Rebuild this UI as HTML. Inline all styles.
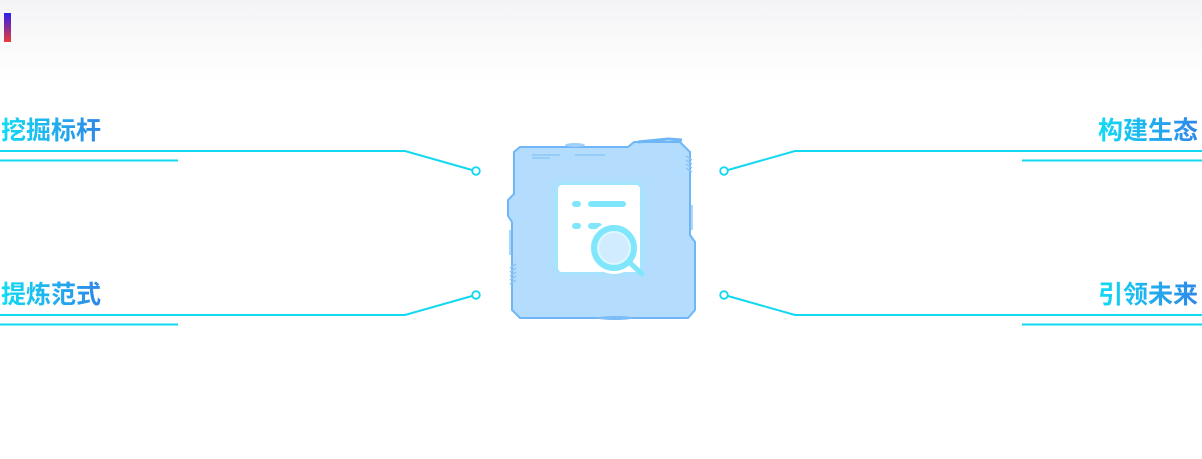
<!DOCTYPE html>
<html><head><meta charset="utf-8"><style>
html,body{margin:0;padding:0;width:1202px;height:459px;overflow:hidden;background:#fff}
svg{display:block}
text{font-family:"Liberation Sans","Noto Sans CJK SC",sans-serif;font-weight:bold;font-size:25px}
</style></head><body>
<svg width="1202" height="459" viewBox="0 0 1202 459">
<defs>
<linearGradient id="hdr" x1="0" y1="0" x2="0" y2="1"><stop offset="0" stop-color="#f4f4f6"/><stop offset="1" stop-color="#ffffff"/></linearGradient>
<linearGradient id="bar" x1="0" y1="0" x2="0" y2="1"><stop offset="0" stop-color="#2a1ff0"/><stop offset="1" stop-color="#e83a3a"/></linearGradient>
<linearGradient id="tg" x1="0" y1="0" x2="1" y2="0"><stop offset="0" stop-color="#10dcf4"/><stop offset="1" stop-color="#2f86e8"/></linearGradient>
<filter id="glow" x="-50%" y="-50%" width="200%" height="200%"><feGaussianBlur stdDeviation="4"/></filter>
</defs>
<rect x="0" y="0" width="1202" height="85" fill="url(#hdr)"/>
<rect x="4" y="13" width="7" height="29" fill="url(#bar)"/>

<g fill="url(#tg)">
<text x="1" y="139">挖掘标杆</text>
<text x="1" y="303">提炼范式</text>
<text x="1198" y="139" text-anchor="end">构建生态</text>
<text x="1198" y="303" text-anchor="end">引领未来</text>
</g>

<g stroke="#12d8f2" stroke-width="2" fill="none">
<polyline points="0,151 405,151 472,170"/>
<line x1="0" y1="160.5" x2="178" y2="160.5"/>
<polyline points="0,315 405,315 472,296"/>
<line x1="0" y1="324.5" x2="178" y2="324.5"/>
<polyline points="1202,151 795,151 728,170"/>
<line x1="1022" y1="160.5" x2="1202" y2="160.5"/>
<polyline points="1202,315 795,315 728,296"/>
<line x1="1022" y1="324.5" x2="1202" y2="324.5"/>
</g>
<g stroke="#12d8f2" stroke-width="1.8" fill="#fff">
<circle cx="476" cy="171" r="3.8"/>
<circle cx="476" cy="295" r="3.8"/>
<circle cx="724" cy="171" r="3.8"/>
<circle cx="724" cy="295" r="3.8"/>
</g>

<path d="M520,147 L628,147 L634,142 L680,142 L690,152 L690,235 L695,242 L695,310 L688,318 L520,318 L512,310 L512,222 L508,216 L508,200 L514,194 L514,152 Z" fill="#b4dcfc"/>
<path d="M520,147 L628,147 L634,142 L680,142 L690,152 L690,235 L695,242 L695,310 L688,318 L520,318 L512,310 L512,222 L508,216 L508,200 L514,194 L514,152 Z" fill="none" stroke="#6fb6f6" stroke-width="2"/>
<path d="M638,142 L668,139 L682,140" stroke="#6fb6f6" stroke-width="3" fill="none"/>
<g stroke="#8cc6f8" stroke-width="1.4">
<line x1="532" y1="155" x2="560" y2="155"/><line x1="532" y1="158" x2="550" y2="158"/>
<line x1="575" y1="155" x2="605" y2="155"/>
<line x1="686" y1="156" x2="692" y2="160"/><line x1="686" y1="160" x2="692" y2="164"/><line x1="686" y1="164" x2="692" y2="168"/><line x1="686" y1="168" x2="692" y2="172"/>
<line x1="510" y1="268" x2="516" y2="264"/><line x1="510" y1="272" x2="516" y2="268"/><line x1="510" y1="276" x2="516" y2="272"/><line x1="510" y1="280" x2="516" y2="276"/><line x1="510" y1="284" x2="516" y2="280"/>
<line x1="692" y1="205" x2="692" y2="230"/><line x1="510" y1="230" x2="510" y2="255"/>
</g>
<ellipse cx="575" cy="145" rx="10" ry="2" fill="#9fd0fa"/>
<ellipse cx="615" cy="318" rx="18" ry="2" fill="#7dbcf6"/>

<g filter="url(#glow)" opacity="0.9">
<rect x="557" y="184" width="84" height="88" rx="4" fill="#8df0ff"/>
</g>
<rect x="558" y="185" width="82" height="87" rx="4" fill="#ffffff"/>
<g fill="#7fe6fb">
<rect x="572" y="201" width="9" height="6" rx="3"/>
<rect x="588" y="201" width="38" height="6" rx="3"/>
<rect x="572" y="223" width="9" height="6" rx="3"/>
<rect x="588" y="223" width="14" height="6" rx="3"/>
</g>
<circle cx="614" cy="248" r="26" fill="#ffffff"/>
<circle cx="614" cy="248" r="20" fill="#dff7ff" stroke="#7fe6fb" stroke-width="6"/>
<circle cx="614" cy="248" r="15" fill="#d2ecff"/>
<line x1="629" y1="262" x2="642" y2="274" stroke="#7fe6fb" stroke-width="5" stroke-linecap="round"/>
</svg>
</body></html>
